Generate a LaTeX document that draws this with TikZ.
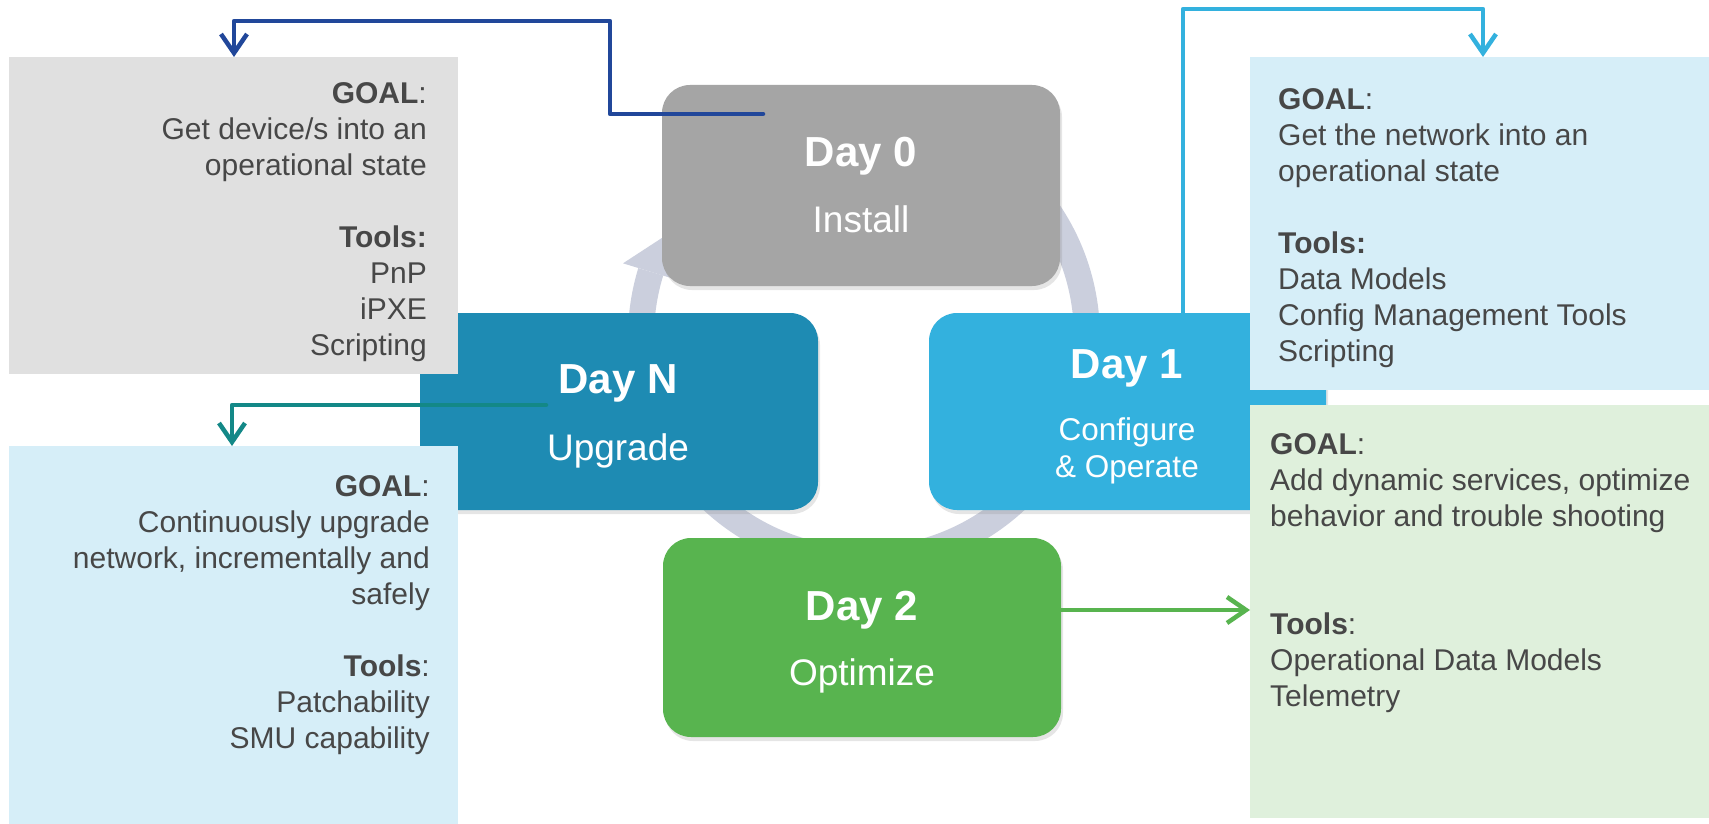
\documentclass[tikz,border=0pt]{standalone}
\usepackage{fontspec}
\setmainfont{Liberation Sans}
\usetikzlibrary{arrows.meta,shadows,calc}

\definecolor{dayzero}{HTML}{A5A5A5}
\definecolor{dayn}{HTML}{1E8BB3}
\definecolor{dayone}{HTML}{33B1DE}
\definecolor{daytwo}{HTML}{58B44F}
\definecolor{ringc}{HTML}{CBCFDD}
\definecolor{graybg}{HTML}{E0E0E0}
\definecolor{bluebg}{HTML}{D6EEF8}
\definecolor{greenbg}{HTML}{DFF0DC}
\definecolor{txtc}{HTML}{474747}
\definecolor{darkbluec}{HTML}{21479A}
\definecolor{tealc}{HTML}{138887}

\begin{document}
\begin{tikzpicture}[x=1pt,y=1pt,
  daybox/.style={rounded corners=28pt, minimum width=398pt, inner sep=0pt,
    drop shadow={opacity=0.2, shadow xshift=2pt, shadow yshift=-4pt}},
  ttl/.style={text=white, font=\bfseries\fontsize{42}{50}\selectfont, anchor=base, inner sep=0pt},
  subt/.style={text=white, font=\fontsize{37}{44}\selectfont, anchor=base, inner sep=0pt},
  subtsmall/.style={text=white, font=\fontsize{31.5}{38}\selectfont, anchor=base, inner sep=0pt},
  goalbox/.style={inner sep=0pt, draw=none},
  goaltxt/.style={text=txtc, font=\fontsize{30}{36}\selectfont, inner sep=0pt},
  con/.style={line width=4.5pt, line cap=round, line join=round,
    -{Straight Barb[length=19pt,width=26pt]}}
]
\useasboundingbox (0,0) rectangle (1709,-824);
\fill[white] (0,0) rectangle (1709,-824);

% cycle ring
\coordinate (C) at (864,-337);
\draw[ringc, line width=26pt] ($(C)+(140:223)$) arc[start angle=140, end angle=-197, radius=223];
\fill[ringc] ($(C)+(163:252)$) -- ($(C)+(153:223)$) -- ($(C)+(163:194)$) -- cycle;

% day boxes
\node[daybox, fill=dayzero, minimum height=201pt] (d0) at (861,-185.5) {};
\node[daybox, fill=dayn, minimum height=197pt] (dn) at (619,-411.5) {};
\node[daybox, fill=dayone, minimum height=197pt, minimum width=397pt] (d1) at (1127.5,-411.5) {};
\node[daybox, fill=daytwo, minimum height=199pt] (d2) at (862,-637.5) {};

\node[ttl] (d0t) at (861,-167) {Day 0};
\node[subt] (d0s) at (861,-233) {Install};
\node[ttl] (dnt) at (618,-393) {Day N};
\node[subt] (dns) at (618,-460) {Upgrade};
\node[ttl] (d1t) at (1127,-378) {Day 1};
\node[subtsmall] (d1s) at (1127,-440) {Configure};
\node[subtsmall] (d1s2) at (1127,-477) {\& Operate};
\node[ttl] (d2t) at (862,-620) {Day 2};
\node[subt] (d2s) at (862,-685) {Optimize};

% goal boxes
\node[goalbox, fill=graybg, minimum width=449pt, minimum height=317pt] (g0) at (233.5,-215.5) {};
\node[goalbox, fill=bluebg, minimum width=459pt, minimum height=333pt] (g1) at (1479.5,-223.5) {};
\node[goalbox, fill=greenbg, minimum width=459pt, minimum height=413pt] (g2) at (1479.5,-611.5) {};
\node[goalbox, fill=bluebg, minimum width=449pt, minimum height=378pt] (gn) at (233.5,-635) {};

% (anchor base = baseline of the last line)
\node[goaltxt, align=right, anchor=base east] (g0x) at (427,-355)
  {\textbf{GOAL}:\\Get device/s into an\\operational state\\[36pt]\textbf{Tools:}\\PnP\\iPXE\\Scripting};
\node[goaltxt, align=left, anchor=base west] (g1x) at (1278,-361)
  {\textbf{GOAL}:\\Get the network into an\\operational state\\[36pt]\textbf{Tools:}\\Data Models\\Config Management Tools\\Scripting};
\node[goaltxt, align=left, anchor=base west] (g2x) at (1270,-706)
  {\textbf{GOAL}:\\Add dynamic services, optimize\\behavior and trouble shooting\\[72pt]\textbf{Tools}:\\Operational Data Models\\Telemetry};
\node[goaltxt, align=right, anchor=base east] (gnx) at (430,-748)
  {\textbf{GOAL}:\\Continuously upgrade\\network, incrementally and\\safely\\[36pt]\textbf{Tools}:\\Patchability\\SMU capability};

% connectors
\coordinate (c0s) at (763,-114);
\coordinate (c0k) at (610,-21);
\coordinate (g0a) at (234,-57);
\draw[con, darkbluec] (c0s) -| (c0k) -| (g0a);

\coordinate (c1s) at (1183,-313);
\coordinate (c1k) at (1483,-9);
\coordinate (g1a) at (1483,-57);
\draw[con, dayone] (c1s) |- (c1k) -- (g1a);

\coordinate (cns) at (546,-405);
\coordinate (gna) at (232,-446);
\draw[con, tealc] (cns) -| (gna);

\coordinate (c2s) at (1061,-610);
\coordinate (g2a) at (1250,-610);
\draw[con, daytwo] (c2s) -- (g2a);
\end{tikzpicture}
\end{document}
